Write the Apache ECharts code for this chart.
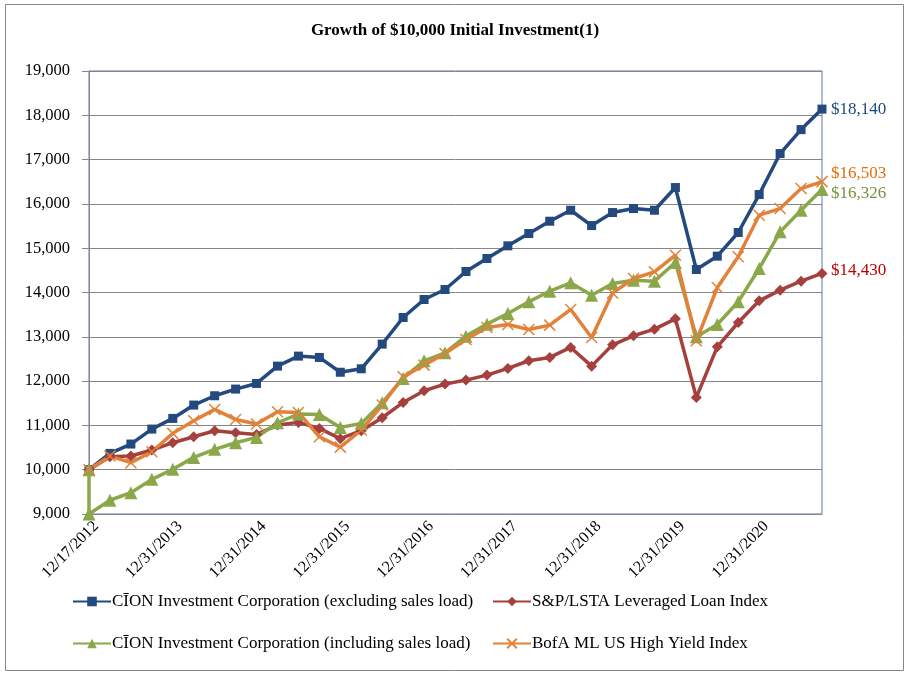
<!DOCTYPE html>
<html>
<head>
<meta charset="utf-8">
<script src="https://cdn.jsdelivr.net/npm/echarts@6/dist/echarts.min.js"></script>
<style>
html,body{margin:0;padding:0;background:#fff;}
#chart{width:910px;height:678px;}
</style>
</head>
<body>
<div id="chart"></div>
<script>
// ---- data ----
const categories = [
  '12/17/2012','3/31/2013','6/30/2013','9/30/2013',
  '12/31/2013','3/31/2014','6/30/2014','9/30/2014',
  '12/31/2014','3/31/2015','6/30/2015','9/30/2015',
  '12/31/2015','3/31/2016','6/30/2016','9/30/2016',
  '12/31/2016','3/31/2017','6/30/2017','9/30/2017',
  '12/31/2017','3/31/2018','6/30/2018','9/30/2018',
  '12/31/2018','3/31/2019','6/30/2019','9/30/2019',
  '12/31/2019','3/31/2020','6/30/2020','9/30/2020',
  '12/31/2020','3/31/2021','6/30/2021','9/30/2021'
];
const cionExcl = [10000,10368,10579,10917,11158,11459,11669,11820,11947,12338,12564,12534,
  12200,12278,12835,13436,13842,14068,14474,14767,15053,15331,15609,15857,
  15511,15805,15895,15857,16369,14519,14820,15354,16211,17136,17677,18140];
const loanIndex = [10000,10293,10308,10444,10609,10744,10880,10835,10797,11008,11068,10932,
  10700,10880,11173,11519,11782,11932,12023,12135,12286,12459,12534,12760,
  12338,12820,13023,13173,13406,11632,12774,13323,13812,14053,14256,14430];
const initialInvestment = 10000;
const cionIncl = [9000,9310,9481,9782,10008,10278,10459,10609,10729,11060,11256,11245,
  10955,11045,11511,12060,12459,12639,13015,13286,13526,13790,14030,14218,
  13940,14203,14278,14256,14677,13000,13278,13790,14541,15369,15857,16326];
const highYield = [10000,10308,10158,10406,10820,11105,11361,11135,11030,11308,11293,10744,
  10510,10895,11459,12098,12361,12624,12940,13211,13278,13166,13263,13617,
  12985,13990,14316,14466,14842,12910,14113,14805,15745,15895,16346,16503];
const seriesNames = [
  'C\u012AON Investment Corporation (excluding sales load)',
  'S&P/LSTA Leveraged Loan Index',
  'C\u012AON Investment Corporation (including sales load)',
  'BofA ML US High Yield Index'
];
const yTicks = {min: 9000, max: 19000, interval: 1000};
const titleText = 'Growth of $10,000 Initial Investment(1)';

// ---- chart ----
const FONT = '"Liberation Serif","Times New Roman",serif';
const fmt = v => '$' + v.toLocaleString('en-US');
const chart = echarts.init(document.getElementById('chart'), null, {renderer: 'canvas'});

const greenData = [[0, initialInvestment]].concat(cionIncl.map((v, i) => [i, v]));

function lineSeries(name, data, color, symbol, size, textColor, endVal, offsetY, extra) {
  return Object.assign({
    name: name,
    type: 'line',
    data: data,
    symbol: symbol,
    symbolSize: size,
    showAllSymbol: true,
    lineStyle: {color: color, width: 3.5},
    itemStyle: {color: color},
    emphasis: {disabled: true},
    animation: false,
    endLabel: {
      show: true,
      formatter: () => fmt(endVal),
      color: textColor,
      fontFamily: FONT,
      fontSize: 17,
      distance: 9,
      offset: [0, offsetY]
    }
  }, extra || {});
}

const xPath = 'path://M0,0L10,10M10,0L0,10';
const legendText = {fontFamily: FONT, fontSize: 17, color: '#000', padding: [0,0,0,-4]};

chart.setOption({
  backgroundColor: '#fff',
  title: {
    text: titleText,
    left: 'center',
    top: 17,
    textStyle: {fontFamily: FONT, fontSize: 17, fontWeight: 'bold', color: '#000'}
  },
  grid: {left: 89, right: 88, top: 71, bottom: 164, show: true, borderColor: '#5b7aa6', borderWidth: 1},
  xAxis: {
    type: 'category',
    data: categories,
    boundaryGap: false,
    axisLine: {show: true, lineStyle: {color: '#868686', width: 1}},
    axisTick: {show: false},
    axisLabel: {
      interval: 3,
      rotate: 45,
      margin: 17,
      padding: [0, -10, 0, 0],
      fontFamily: FONT,
      fontSize: 16,
      color: '#000'
    },
    splitLine: {show: false}
  },
  yAxis: {
    type: 'value',
    min: yTicks.min,
    max: yTicks.max,
    interval: yTicks.interval,
    axisLine: {show: true, lineStyle: {color: '#868686', width: 1}},
    axisTick: {show: true, length: 7, lineStyle: {color: '#868686'}},
    axisLabel: {
      formatter: v => v.toLocaleString('en-US'),
      fontFamily: FONT,
      fontSize: 16.5,
      color: '#000',
      margin: 19
    },
    splitLine: {show: true, lineStyle: {color: '#868686', width: 1}}
  },
  legend: [
    {
      data: [seriesNames[0], seriesNames[2]],
      orient: 'vertical',
      left: 72, top: 593, padding: 0,
      itemWidth: 38, itemHeight: 12, itemGap: 25,
      textStyle: legendText
    },
    {
      data: [seriesNames[1], seriesNames[3]],
      orient: 'vertical',
      left: 492, top: 593, padding: 0,
      itemWidth: 38, itemHeight: 12, itemGap: 25,
      textStyle: legendText
    }
  ],
  graphic: [{
    type: 'rect',
    shape: {x: 5.5, y: 4.5, width: 898, height: 666},
    style: {fill: 'none', stroke: '#868686', lineWidth: 1},
    silent: true, z: -1
  }],
  series: [
    lineSeries(seriesNames[0], cionExcl, '#23497e', 'rect', 9, '#1f497d', cionExcl[cionExcl.length-1], 0),
    lineSeries(seriesNames[1], loanIndex, '#a5403d', 'diamond', 11, '#c00000', loanIndex[loanIndex.length-1], -3),
    lineSeries(seriesNames[2], greenData, '#8aa84a', 'triangle', 13, '#77933c', cionIncl[cionIncl.length-1], 4),
    lineSeries(seriesNames[3], highYield, '#e2823a', xPath, 11, '#e46c0a', highYield[highYield.length-1], -8,
      {itemStyle: {color: '#e2823a', borderColor: '#e2823a', borderWidth: 1.5}})
  ]
});
</script>
</body>
</html>
